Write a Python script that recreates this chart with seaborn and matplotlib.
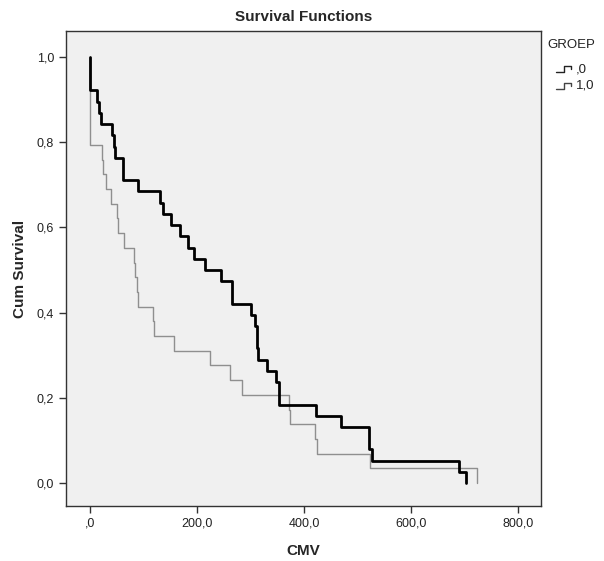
import numpy as np
import pandas as pd
import matplotlib
matplotlib.use("Agg")
import matplotlib.pyplot as plt
import seaborn as sns
from matplotlib.lines import Line2D

# CMV event times (no censoring visible)
times_g0 = [0, 0, 0, 14, 17, 21, 42, 45, 47, 61, 61, 90, 131, 136, 152, 169,
            184, 195, 215, 245, 265, 265, 301, 308, 312, 312, 314, 331, 348,
            353, 353, 422, 469, 521, 521, 527, 690, 703]
times_g1 = [0, 0, 0, 0, 0, 0, 22, 25, 30, 40, 50, 52, 64, 82, 84, 88, 90,
            117, 119, 157, 224, 262, 285, 372, 374, 421, 424, 523, 723]
group_labels = [",0", "1,0"]

x_ticks = [0, 200, 400, 600, 800]
x_tick_labels = [",0", "200,0", "400,0", "600,0", "800,0"]
y_ticks = [0, 0.2, 0.4, 0.6, 0.8, 1.0]
y_tick_labels = ["0,0", "0,2", "0,4", "0,6", "0,8", "1,0"]


def km_steps(times, label):
    t = np.sort(np.asarray(times, dtype=float))
    n = len(t)
    surv = 1 - np.arange(1, n + 1) / n
    return pd.DataFrame({"CMV": np.r_[0.0, t],
                         "Cum Survival": np.r_[1.0, surv],
                         "GROEP": label})


df0 = km_steps(times_g0, group_labels[0])
df1 = km_steps(times_g1, group_labels[1])

sns.set_style("ticks", {"axes.facecolor": "#f0f0f0",
                        "axes.edgecolor": "#333333"})
plt.rcParams["font.family"] = ["Liberation Sans", "DejaVu Sans"]

fig = plt.figure(figsize=(6.04, 5.61), dpi=100)
ax = fig.add_axes([0.109, 0.098, 0.787, 0.847])

sns.lineplot(data=df1, x="CMV", y="Cum Survival", estimator=None, sort=False,
             drawstyle="steps-post", color="#8f8f8f", linewidth=1.0, ax=ax)
sns.lineplot(data=df0, x="CMV", y="Cum Survival", estimator=None, sort=False,
             drawstyle="steps-post", color="black", linewidth=2.0, ax=ax)

ax.set_xlim(-45, 843)
ax.set_ylim(-0.054, 1.061)
ax.set_xticks(x_ticks, x_tick_labels)
ax.set_yticks(y_ticks, y_tick_labels)
ax.tick_params(direction="out", length=5, width=1, colors="#333333",
               labelsize=9, labelcolor="#222222")
for s in ax.spines.values():
    s.set_linewidth(1.0)

ax.set_title("Survival Functions", fontsize=11, fontweight="bold", pad=7)
ax.set_xlabel("CMV", fontsize=11, fontweight="bold", labelpad=10)
ax.set_ylabel("Cum Survival", fontsize=11, fontweight="bold", labelpad=7)

# legend drawn by hand to mimic the SPSS step glyphs
fig.text(0.906, 0.92, "GROEP", fontsize=9.5, va="center", color="#222222")
entries = [(group_labels[0], "#222222", 1.0, 0.877),
           (group_labels[1], "#444444", 1.0, 0.847)]
for label, col, lw, yc in entries:
    x0 = 556 / 604
    gx = np.array([0, 8, 8, 15, 15]) / 604 + x0
    gy = np.array([-3, -3, 3, 3, 0]) / 561 + yc
    fig.add_artist(Line2D(gx, gy, color=col, linewidth=lw,
                          transform=fig.transFigure))
    fig.text(x0 + 20 / 604, yc, label, fontsize=9.5, va="center",
             color="#222222")

fig.savefig("out.png", dpi=100)
